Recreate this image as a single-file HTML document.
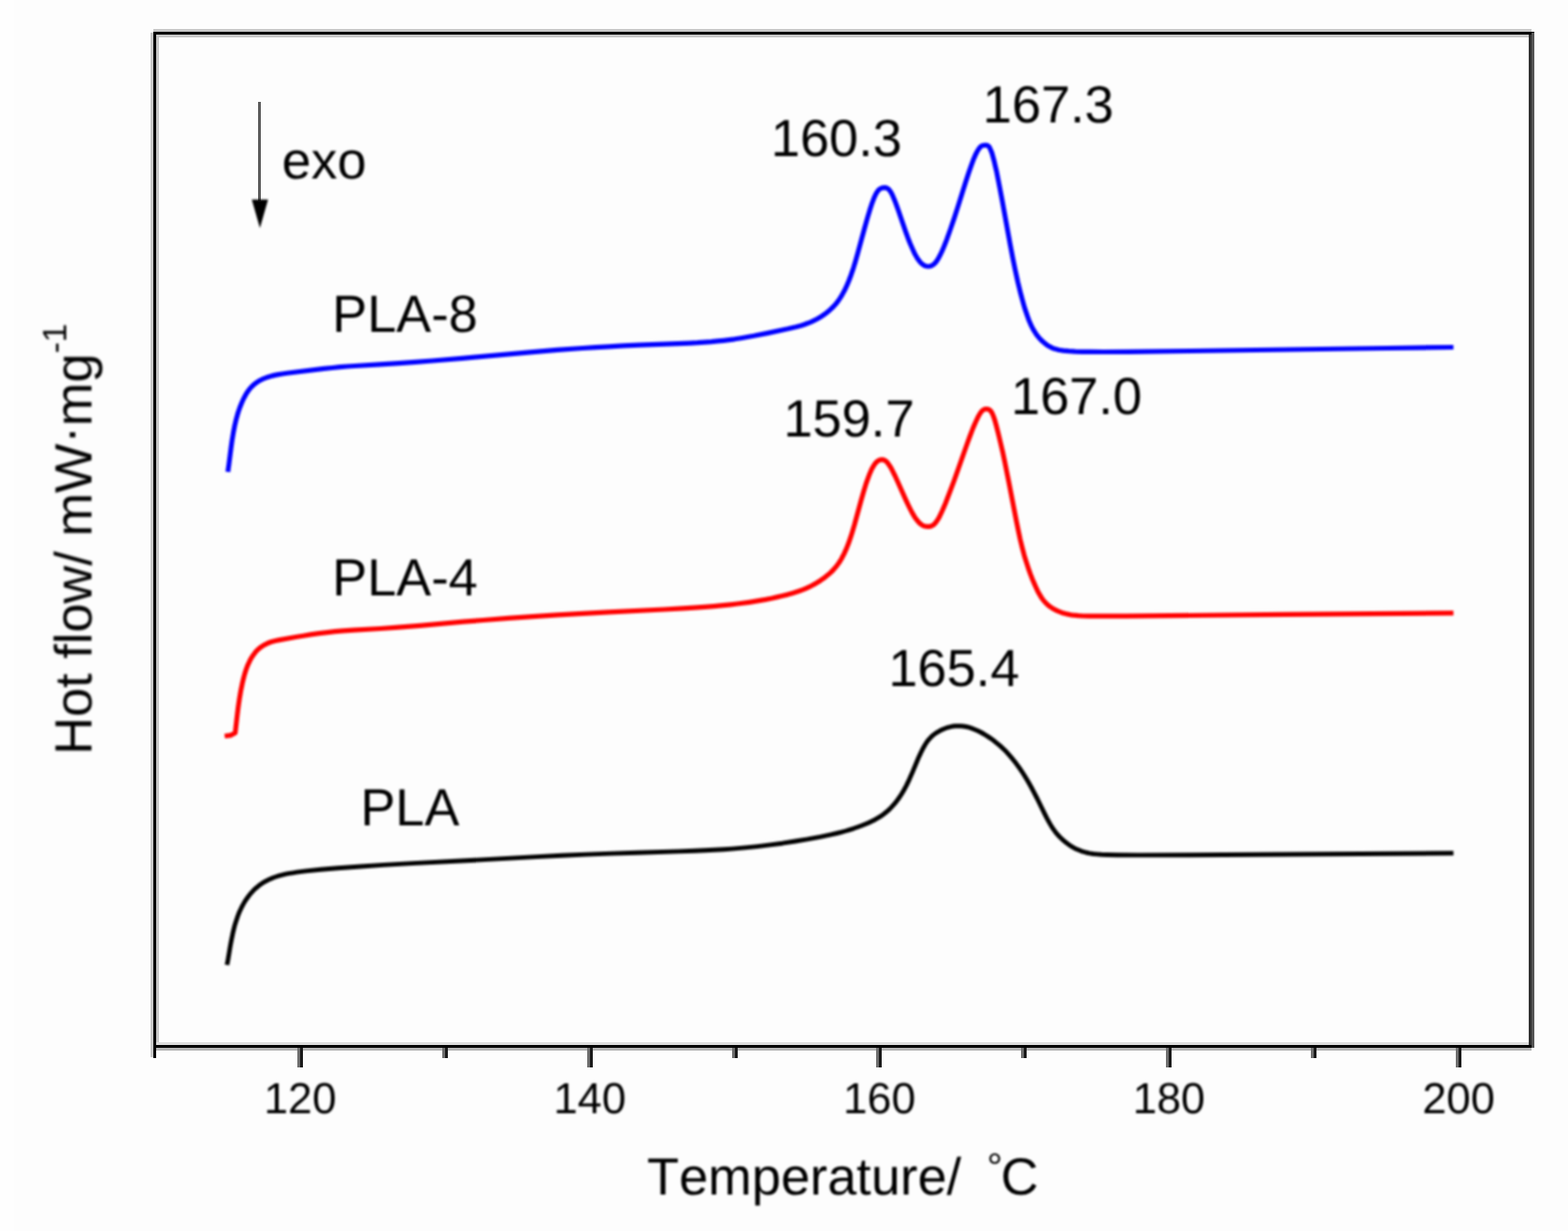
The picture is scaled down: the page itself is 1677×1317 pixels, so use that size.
<!DOCTYPE html>
<html lang="en"><head><meta charset="utf-8"><title>DSC heat flow curves</title>
<style>
html,body{margin:0;padding:0;background:#fdfdfd;overflow:hidden}
svg{display:block}
text{font-family:"Liberation Sans",Arial,Helvetica,sans-serif;fill:#000;font-kerning:none;text-rendering:geometricPrecision}
.big{font-size:56px}.tick{font-size:46.5px;text-anchor:middle}
.c{fill:none;stroke-linejoin:round;stroke-linecap:butt}
</style></head><body>
<svg width="1677" height="1317" viewBox="0 0 1677 1317">
<defs>
<filter id="b2" x="-5%" y="-5%" width="110%" height="110%"><feGaussianBlur stdDeviation="1"/></filter>
</defs>
<rect x="0" y="0" width="1677" height="1317" fill="#fdfdfd"/>
<rect x="0" y="0" width="15" height="1317" fill="#fefefe"/>
<g id="frame" shape-rendering="crispEdges">
<rect x="164" y="31" width="1474" height="9" fill="#c8c8c8"/>
<rect x="164" y="34" width="1477" height="3" fill="#000"/>
<rect x="164" y="1115" width="1471" height="3" fill="#dcdcdc"/>
<rect x="164" y="1121" width="1474" height="3" fill="#b4b4b4"/>
<rect x="164" y="1118" width="1474" height="3" fill="#000"/>
<rect x="161" y="35" width="3" height="1096" fill="#c8c8c8"/>
<rect x="167" y="40" width="3" height="1075" fill="#c8c8c8"/>
<rect x="164" y="34" width="3" height="1098" fill="#000"/>
<rect x="1635" y="37" width="3" height="1081" fill="#303030"/>
<rect x="1638" y="35" width="3" height="1086" fill="#555"/>
<rect x="318" y="1121" width="3" height="21" fill="#6e6e6e"/>
<rect x="321" y="1121" width="3" height="21" fill="#1a1a1a"/>
<rect x="628" y="1121" width="3" height="21" fill="#6e6e6e"/>
<rect x="631" y="1121" width="3" height="21" fill="#1a1a1a"/>
<rect x="937" y="1121" width="3" height="21" fill="#6e6e6e"/>
<rect x="940" y="1121" width="3" height="21" fill="#1a1a1a"/>
<rect x="1247" y="1121" width="3" height="21" fill="#6e6e6e"/>
<rect x="1250" y="1121" width="3" height="21" fill="#1a1a1a"/>
<rect x="1557" y="1121" width="3" height="21" fill="#6e6e6e"/>
<rect x="1560" y="1121" width="3" height="21" fill="#1a1a1a"/>
<rect x="473" y="1121" width="3" height="11" fill="#6e6e6e"/>
<rect x="476" y="1121" width="3" height="11" fill="#1a1a1a"/>
<rect x="783" y="1121" width="3" height="11" fill="#6e6e6e"/>
<rect x="786" y="1121" width="3" height="11" fill="#1a1a1a"/>
<rect x="1092" y="1121" width="3" height="11" fill="#6e6e6e"/>
<rect x="1095" y="1121" width="3" height="11" fill="#1a1a1a"/>
<rect x="1402" y="1121" width="3" height="11" fill="#6e6e6e"/>
<rect x="1405" y="1121" width="3" height="11" fill="#1a1a1a"/>
</g>
<g id="ticklabels" filter="url(#b2)">
<text class="tick" x="321.0" y="1191.4">120</text>
<text class="tick" x="630.8" y="1191.4">140</text>
<text class="tick" x="940.5" y="1191.4">160</text>
<text class="tick" x="1250.2" y="1191.4">180</text>
<text class="tick" x="1560.0" y="1191.4">200</text>
</g>
<g id="curves" filter="url(#b2)" transform="translate(0,0.4)">
<path class="c" stroke="#0000ff" stroke-width="5.2" d="M243.7,504.5 L244.8,496.6 L247.1,478.7 L248.2,470.8 L249.5,462.9 L250.8,456.0 L251.7,452.1 L252.6,448.2 L253.7,444.3 L254.5,441.4 L255.8,437.6 L256.8,434.8 L258.3,431.1 L259.5,428.4 L260.8,425.6 L262.2,423.0 L263.7,420.4 L265.4,417.9 L267.2,415.5 L268.5,414.0 L270.6,411.9 L272.1,410.6 L273.7,409.3 L276.2,407.7 L278.0,406.7 L280.6,405.3 L282.5,404.5 L285.3,403.4 L288.1,402.5 L291.0,401.7 L293.9,401.0 L297.9,400.2 L301.8,399.6 L306.8,398.9 L346.5,394.0 L355.5,393.1 L363.4,392.3 L371.4,391.6 L379.4,391.1 L406.4,389.5 L426.4,388.2 L444.3,387.0 L462.3,385.6 L494.2,382.9 L564.0,376.7 L595.9,374.0 L622.9,372.1 L636.9,371.2 L650.9,370.4 L666.8,369.5 L683.8,368.8 L724.9,367.3 L737.9,366.7 L745.9,366.3 L753.8,365.7 L760.8,365.2 L767.8,364.5 L773.8,363.9 L779.7,363.2 L785.7,362.4 L792.6,361.3 L799.5,360.1 L806.4,358.9 L821.1,356.0 L842.7,351.4 L851.4,349.3 L856.3,348.0 L860.1,346.8 L863.9,345.4 L867.6,343.9 L871.2,342.2 L873.9,340.8 L876.5,339.3 L879.0,337.8 L881.5,336.1 L884.7,333.7 L887.0,331.8 L889.2,329.7 L891.4,327.6 L892.7,326.2 L894.7,323.9 L896.5,321.5 L898.2,319.0 L899.8,316.5 L901.3,313.9 L902.8,311.2 L904.1,308.6 L905.4,305.8 L907.7,300.3 L910.2,293.8 L912.8,286.2 L914.8,279.5 L917.0,271.8 L924.9,242.8 L927.6,233.2 L930.2,224.5 L932.7,216.9 L934.1,213.2 L935.2,210.4 L936.5,207.7 L937.5,205.9 L938.5,204.3 L939.2,203.5 L939.8,202.7 L940.6,202.1 L941.4,201.5 L942.3,201.0 L943.2,200.7 L944.2,200.5 L945.2,200.4 L946.2,200.3 L947.2,200.4 L948.2,200.7 L949.1,201.1 L949.9,201.7 L950.7,202.3 L951.3,203.1 L952.5,204.7 L953.5,206.4 L954.4,208.2 L955.6,211.0 L956.7,213.7 L958.2,217.5 L960.9,225.0 L968.7,247.7 L971.1,254.3 L973.3,259.9 L975.7,265.4 L977.8,270.0 L979.2,272.6 L980.2,274.3 L981.2,276.1 L982.4,277.7 L984.2,280.1 L985.6,281.5 L986.4,282.2 L988.0,283.3 L988.9,283.8 L989.8,284.1 L990.8,284.4 L991.8,284.6 L992.8,284.6 L993.8,284.6 L994.7,284.4 L995.7,284.1 L996.6,283.7 L997.5,283.2 L998.3,282.7 L999.8,281.3 L1001.1,279.8 L1002.8,277.3 L1004.3,274.7 L1005.7,272.1 L1007.4,268.5 L1009.0,264.8 L1010.9,260.2 L1012.7,255.5 L1016.4,245.1 L1020.3,233.7 L1024.3,221.3 L1032.7,194.6 L1036.1,184.2 L1039.1,175.7 L1040.5,171.9 L1042.0,168.2 L1043.6,164.5 L1045.0,161.9 L1046.5,159.3 L1047.7,157.7 L1048.4,156.9 L1049.1,156.3 L1050.0,155.7 L1050.9,155.3 L1051.9,155.1 L1052.9,155.0 L1053.9,154.9 L1054.9,154.9 L1055.8,155.1 L1056.7,155.6 L1057.5,156.2 L1058.1,157.0 L1058.6,157.9 L1059.0,158.8 L1059.8,160.6 L1060.9,163.4 L1062.0,167.3 L1063.3,172.1 L1064.4,177.0 L1066.0,183.8 L1068.9,198.5 L1071.9,214.3 L1080.3,260.6 L1083.1,275.3 L1085.7,288.0 L1088.7,301.7 L1091.8,314.4 L1093.4,320.2 L1094.7,325.0 L1096.1,329.8 L1097.7,334.5 L1099.0,338.3 L1100.4,342.1 L1102.0,345.8 L1103.2,348.5 L1104.6,351.2 L1106.1,353.8 L1107.7,356.3 L1108.8,357.9 L1110.7,360.3 L1112.7,362.5 L1114.8,364.7 L1117.1,366.6 L1119.5,368.5 L1121.1,369.6 L1123.8,371.0 L1125.6,371.9 L1127.4,372.6 L1129.4,373.2 L1131.3,373.7 L1133.2,374.1 L1137.2,374.7 L1143.2,375.3 L1150.2,375.7 L1157.2,375.9 L1167.2,376.0 L1180.2,376.1 L1208.2,375.9 L1273.3,375.1 L1483.4,372.1 L1554.5,371.1"/>
<path class="c" stroke="#ff0000" stroke-width="5.2" d="M240.3,787.1 L247.0,786.2 L251.6,783.5 L253.5,766.6 L254.7,756.7 L256.0,747.7 L257.5,738.9 L259.1,731.0 L260.0,727.1 L261.0,723.2 L262.1,719.4 L263.0,716.5 L264.0,713.7 L265.1,710.9 L266.4,708.2 L267.7,705.5 L269.2,702.9 L270.3,701.2 L272.1,698.8 L273.3,697.2 L274.7,695.7 L276.1,694.3 L277.6,693.0 L279.2,691.8 L280.9,690.7 L283.5,689.2 L285.2,688.3 L288.0,687.1 L289.9,686.4 L292.8,685.6 L294.7,685.1 L297.7,684.5 L316.4,681.1 L324.3,679.8 L332.2,678.5 L341.1,677.3 L350.0,676.2 L358.0,675.3 L367.0,674.5 L378.0,673.8 L406.9,672.1 L425.9,670.8 L448.9,668.9 L495.7,664.8 L516.7,663.1 L543.6,661.0 L569.6,659.2 L596.6,657.5 L623.5,655.9 L651.5,654.5 L710.5,651.6 L730.5,650.5 L742.5,649.8 L753.5,649.0 L763.5,648.2 L773.4,647.3 L781.4,646.4 L788.4,645.6 L801.3,643.9 L807.2,643.0 L813.1,642.0 L819.0,641.0 L824.9,639.8 L830.8,638.5 L836.6,637.1 L842.5,635.7 L847.3,634.3 L851.1,633.1 L854.9,631.9 L858.7,630.5 L862.4,628.9 L866.0,627.3 L868.7,625.9 L872.2,624.0 L874.8,622.4 L877.3,620.8 L880.6,618.5 L883.0,616.7 L886.1,614.2 L888.3,612.2 L890.5,610.1 L891.8,608.6 L893.8,606.4 L895.0,604.8 L896.8,602.4 L898.5,599.9 L900.0,597.3 L901.4,594.6 L902.8,592.0 L905.3,586.5 L907.5,580.9 L909.8,574.3 L911.6,568.6 L913.9,560.9 L921.0,534.8 L923.8,525.2 L926.4,516.6 L928.8,510.0 L930.2,506.3 L931.4,503.5 L932.7,500.8 L934.2,498.2 L935.3,496.5 L936.5,494.9 L937.9,493.5 L938.7,492.9 L939.6,492.4 L940.5,491.9 L941.4,491.6 L942.4,491.4 L943.4,491.3 L944.4,491.5 L945.3,491.7 L946.2,492.2 L947.1,492.7 L947.9,493.3 L948.6,494.0 L949.9,495.6 L951.6,498.0 L952.6,499.7 L954.1,502.4 L957.2,508.6 L960.5,515.9 L968.7,534.2 L970.8,538.8 L973.0,543.2 L975.3,547.7 L977.8,552.0 L980.1,555.3 L982.0,557.7 L983.3,559.1 L984.1,559.8 L985.7,561.0 L986.5,561.5 L987.4,562.0 L988.3,562.3 L989.3,562.6 L990.3,562.8 L992.3,563.0 L993.3,563.0 L994.3,562.9 L995.3,562.7 L996.2,562.4 L997.1,561.9 L998.0,561.4 L998.8,560.8 L999.5,560.1 L1000.8,558.6 L1002.0,557.0 L1003.1,555.3 L1004.6,552.7 L1005.9,550.0 L1007.6,546.4 L1009.2,542.7 L1011.2,538.1 L1015.5,526.9 L1020.1,514.7 L1024.8,501.5 L1034.1,475.1 L1037.2,466.6 L1040.4,458.2 L1042.0,454.5 L1043.6,450.9 L1045.3,447.2 L1046.6,444.6 L1048.2,442.0 L1049.3,440.4 L1050.7,438.9 L1051.5,438.2 L1052.3,437.7 L1053.2,437.4 L1054.2,437.2 L1055.2,437.2 L1056.2,437.3 L1057.2,437.6 L1058.1,438.0 L1058.9,438.6 L1059.6,439.3 L1060.2,440.1 L1060.7,440.9 L1061.6,442.7 L1062.7,445.5 L1064.0,449.3 L1065.6,455.1 L1067.6,462.9 L1069.9,472.6 L1072.4,483.3 L1074.7,494.1 L1079.0,515.7 L1087.2,557.9 L1089.2,567.7 L1091.1,576.6 L1093.2,585.3 L1095.5,594.0 L1097.9,601.7 L1100.4,609.3 L1102.1,614.0 L1104.3,619.6 L1106.3,624.2 L1107.9,627.8 L1109.6,631.5 L1111.5,635.0 L1113.0,637.6 L1114.6,640.1 L1116.5,642.5 L1117.8,644.0 L1119.9,646.1 L1121.4,647.4 L1123.9,649.2 L1126.4,650.8 L1129.0,652.2 L1131.7,653.5 L1135.5,655.0 L1139.3,656.1 L1143.2,657.0 L1145.2,657.4 L1148.1,657.8 L1153.1,658.3 L1158.1,658.6 L1164.1,658.7 L1175.1,658.8 L1188.1,658.8 L1204.2,658.7 L1375.3,657.0 L1554.5,655.4"/>
<path class="c" stroke="#000000" stroke-width="4.9" d="M242.8,1032.0 L243.9,1026.1 L246.2,1012.3 L247.5,1005.4 L248.9,998.5 L250.5,991.7 L251.6,987.8 L252.5,985.0 L253.8,981.2 L254.8,978.4 L255.9,975.6 L257.2,972.8 L258.5,970.1 L259.9,967.5 L261.9,964.0 L263.6,961.5 L265.3,959.1 L267.2,956.7 L269.1,954.4 L271.1,952.2 L273.3,950.1 L275.6,948.2 L277.9,946.3 L279.6,945.1 L282.1,943.5 L284.7,942.1 L287.4,940.7 L290.1,939.5 L292.9,938.4 L295.8,937.4 L298.6,936.5 L302.5,935.5 L305.4,934.8 L309.4,934.0 L313.3,933.4 L317.3,932.8 L327.2,931.5 L343.1,929.9 L361.1,928.4 L386.0,926.6 L410.0,925.0 L441.0,923.2 L503.0,920.1 L574.0,916.2 L601.0,914.9 L627.0,913.7 L654.0,912.7 L682.0,911.8 L726.0,910.5 L743.0,909.9 L754.0,909.4 L764.0,908.9 L774.0,908.3 L783.0,907.7 L797.0,906.5 L809.9,905.2 L823.8,903.5 L836.7,901.8 L850.6,899.6 L863.4,897.5 L877.2,894.9 L888.9,892.4 L894.8,891.1 L899.6,889.9 L904.5,888.6 L908.3,887.4 L913.1,885.9 L916.9,884.6 L921.6,882.9 L925.3,881.4 L929.0,879.8 L932.6,878.1 L936.2,876.3 L938.8,874.8 L942.2,872.7 L944.6,871.0 L947.0,869.1 L949.3,867.2 L951.5,865.2 L953.6,863.0 L955.6,860.8 L958.2,857.7 L960.0,855.3 L962.3,852.1 L964.5,848.7 L966.5,845.3 L969.4,840.0 L972.4,833.7 L975.3,827.2 L982.2,810.6 L983.9,807.0 L985.6,803.4 L987.4,799.8 L989.4,796.3 L991.0,793.8 L992.8,791.4 L994.1,789.9 L995.5,788.4 L996.9,787.0 L998.5,785.7 L1000.1,784.5 L1001.7,783.4 L1003.4,782.4 L1005.2,781.4 L1007.9,780.1 L1009.7,779.3 L1011.6,778.6 L1013.5,777.9 L1015.4,777.4 L1017.4,777.0 L1019.3,776.6 L1021.3,776.4 L1024.3,776.2 L1027.3,776.3 L1030.3,776.6 L1033.3,777.1 L1036.2,777.8 L1039.1,778.7 L1041.9,779.8 L1045.6,781.4 L1049.1,783.1 L1052.6,785.1 L1056.0,787.2 L1060.2,790.0 L1063.4,792.4 L1066.5,794.9 L1069.6,797.5 L1073.2,800.9 L1076.1,803.7 L1078.8,806.7 L1081.4,809.7 L1084.6,813.6 L1087.0,816.7 L1090.0,820.8 L1092.8,824.9 L1095.5,829.1 L1098.1,833.4 L1100.6,837.7 L1103.1,842.1 L1105.4,846.5 L1109.1,853.6 L1117.5,870.7 L1119.8,875.2 L1121.7,878.7 L1123.7,882.2 L1125.2,884.7 L1127.5,888.0 L1129.3,890.4 L1131.3,892.7 L1132.6,894.2 L1134.0,895.6 L1136.2,897.7 L1137.7,899.0 L1140.0,900.9 L1142.4,902.7 L1144.0,903.9 L1146.5,905.5 L1148.3,906.5 L1150.9,907.9 L1152.8,908.7 L1156.5,910.2 L1158.4,910.8 L1161.3,911.6 L1165.2,912.5 L1169.1,913.1 L1173.1,913.5 L1178.1,913.9 L1184.1,914.1 L1195.1,914.3 L1218.2,914.5 L1272.2,914.3 L1345.3,913.9 L1418.4,913.4 L1554.5,912.4"/>
</g>
<rect x="276" y="109" width="3" height="106" fill="#5c5c5c" shape-rendering="crispEdges"/>
<g id="arrow" filter="url(#b2)">
<polygon points="269.3,213.5 286.7,213.5 278,244" fill="#000"/>
</g>
<g id="labels" filter="url(#b2)">
<text class="big" x="301.5" y="191.4">exo</text>
<text class="big" x="355.3" y="355.1">PLA-8</text>
<text class="big" x="355.3" y="637.4">PLA-4</text>
<text class="big" x="385.5" y="883.1">PLA</text>
<text class="big" x="824.5" y="167.0">160.3</text>
<text class="big" x="1051.1" y="130.8">167.3</text>
<text class="big" x="837.9" y="467.4">159.7</text>
<text class="big" x="1081.3" y="442.7">167.0</text>
<text class="big" x="950.2" y="733.5">165.4</text>
<text class="big" x="692" y="1277.5">Temperature/ <tspan x="1055.5" dy="-15" style="font-size:42px">°</tspan><tspan x="1070.2" dy="15">C</tspan></text>
<text class="big" transform="translate(97.8,807.5) rotate(-90)" x="0" y="0">Hot flow/ mW<tspan dy="-5">·</tspan><tspan dy="5">mg</tspan><tspan dy="-27" style="font-size:36px">-1</tspan></text>
</g>
</svg>
</body></html>
